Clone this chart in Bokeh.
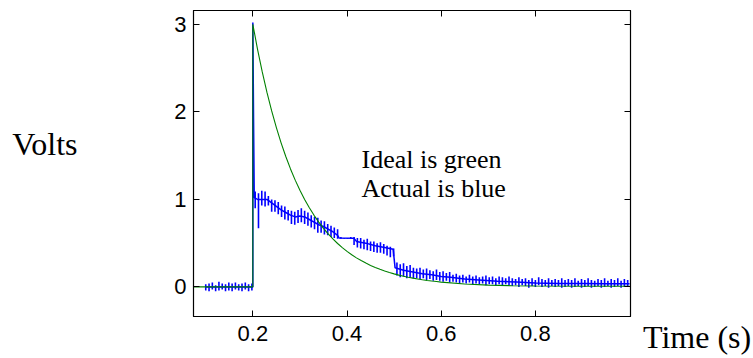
from bokeh.plotting import figure
from bokeh.models import Range1d, LinearAxis, FixedTicker, Label, CustomJSTickFormatter, Div
from bokeh.layouts import row
from bokeh.embed import file_html
from bokeh.resources import INLINE

# Ideal response (green)
ideal_t = [0.07, 0.200, 0.200, 0.21, 0.22, 0.23, 0.24, 0.25, 0.26, 0.27, 0.28, 0.29, 0.30,
           0.31, 0.32, 0.33, 0.34, 0.35, 0.36, 0.37, 0.38, 0.39, 0.40,
           0.41, 0.42, 0.43, 0.44, 0.45, 0.46, 0.47, 0.48, 0.49, 0.50,
           0.51, 0.52, 0.53, 0.54, 0.55, 0.56, 0.57, 0.58, 0.59, 0.60,
           0.65, 0.70, 0.75, 0.80, 0.90, 1.00]
ideal_v = [0.0, 0.0, 3.00, 2.715, 2.456, 2.222, 2.011, 1.820, 1.646, 1.490, 1.348, 1.220, 1.104,
           0.999, 0.904, 0.818, 0.740, 0.669, 0.606, 0.548, 0.496, 0.449, 0.406,
           0.367, 0.332, 0.301, 0.272, 0.246, 0.223, 0.201, 0.182, 0.165, 0.149,
           0.135, 0.122, 0.110, 0.100, 0.091, 0.082, 0.074, 0.067, 0.061, 0.055,
           0.033, 0.020, 0.014, 0.010, 0.008, 0.007]

# Actual response (blue): running level
actual_t = [0.100, 0.200, 0.200, 0.2015, 0.203, 0.210, 0.220, 0.230, 0.240, 0.250, 0.260,
            0.270, 0.280, 0.290, 0.300, 0.310, 0.320, 0.330, 0.340, 0.350, 0.360,
            0.370, 0.380, 0.383, 0.415, 0.420, 0.440, 0.460, 0.480, 0.498, 0.502,
            0.520, 0.540, 0.560, 0.580, 0.600, 0.620, 0.650, 0.680, 0.720, 0.760,
            0.800, 0.850, 0.900, 0.950, 1.000]
actual_v = [0.00, 0.00, 3.02, 1.93, 1.02, 1.00, 1.00, 1.00, 0.96, 0.92, 0.88,
            0.85, 0.82, 0.80, 0.81, 0.80, 0.77, 0.74, 0.71, 0.69, 0.66,
            0.63, 0.59, 0.56, 0.555, 0.52, 0.50, 0.47, 0.45, 0.43, 0.22,
            0.19, 0.17, 0.15, 0.14, 0.12, 0.11, 0.09, 0.08, 0.065, 0.055,
            0.045, 0.04, 0.038, 0.035, 0.035]

# Actual response (blue): noise excursions, one per sample starting at 0.100 s every 0.007 s
noise_t0 = 0.100
noise_dt = 0.007
noise_lo = [-0.04, -0.05, -0.03, -0.05, -0.04, -0.03, -0.05, -0.04, -0.05, -0.03,
            -0.04, -0.05, -0.03, -0.05, -0.04,
            0.90, 0.67, 0.93, 0.92, 0.93, 0.86, 0.86, 0.83, 0.80, 0.77,
            0.76, 0.72, 0.71, 0.73, 0.74, 0.72, 0.70, 0.68, 0.66, 0.62,
            0.62, 0.60, 0.59, 0.57, 0.56, 0.55, 0.55, 0.55, 0.55, 0.55,
            0.48, 0.45, 0.44, 0.43, 0.42, 0.41, 0.40, 0.39, 0.39, 0.38,
            0.36, 0.34, 0.35, 0.13, 0.11, 0.12, 0.10, 0.11, 0.10, 0.10,
            0.09, 0.10, 0.08, 0.09, 0.07, 0.08, 0.07, 0.06, 0.07, 0.05,
            0.06, 0.05, 0.04, 0.05, 0.04, 0.05, 0.03, 0.04, 0.03, 0.04,
            0.02, 0.03, 0.03, 0.02, 0.03, 0.01, 0.03, 0.02, 0.01, 0.02,
            0.00, 0.02, 0.01, -0.01, 0.01, 0.00, 0.02, 0.00, 0.01, -0.01,
            0.01, 0.00, 0.01, -0.01, 0.00, 0.01, -0.01, 0.00, 0.01, -0.01,
            0.00, 0.01, -0.01, 0.00, 0.01, -0.01, 0.00, 0.01, -0.01, 0.00,
            0.01, -0.01, 0.00, 0.01]
noise_hi = [0.03, 0.04, 0.05, 0.02, 0.06, 0.04, 0.03, 0.05, 0.04, 0.05,
            0.03, 0.04, 0.05, 0.03, 0.04,
            1.09, 1.07, 1.10, 1.09, 1.04, 1.00, 0.99, 0.97, 0.93, 0.92,
            0.88, 0.87, 0.86, 0.88, 0.90, 0.87, 0.85, 0.82, 0.80, 0.79,
            0.76, 0.75, 0.72, 0.70, 0.68, 0.66, 0.57, 0.56, 0.56, 0.57,
            0.57, 0.56, 0.56, 0.54, 0.55, 0.52, 0.52, 0.50, 0.51, 0.49,
            0.47, 0.46, 0.44, 0.28, 0.26, 0.27, 0.24, 0.25, 0.22, 0.21,
            0.22, 0.20, 0.21, 0.19, 0.18, 0.20, 0.17, 0.18, 0.16, 0.17,
            0.14, 0.15, 0.13, 0.14, 0.12, 0.14, 0.12, 0.13, 0.11, 0.12,
            0.13, 0.11, 0.12, 0.10, 0.12, 0.11, 0.10, 0.12, 0.10, 0.09,
            0.11, 0.09, 0.10, 0.08, 0.10, 0.08, 0.11, 0.09, 0.08, 0.10,
            0.08, 0.09, 0.08, 0.10, 0.08, 0.09, 0.08, 0.10, 0.07, 0.09,
            0.08, 0.10, 0.08, 0.07, 0.09, 0.08, 0.10, 0.07, 0.09, 0.08,
            0.10, 0.07, 0.09, 0.08]
noise_t = [round(noise_t0 + i * noise_dt, 4) for i in range(len(noise_lo))]

x_ticks = [0.2, 0.4, 0.6, 0.8]
y_ticks = [0, 1, 2, 3]

x_label = "Time (s)"
y_label = "Volts"
y_label_at = 1.63          # height (volts) at which the horizontal "Volts" label sits
note_lines = ["Ideal is green", "Actual is blue"]

p = figure(width=640, height=358, output_backend="svg", toolbar_location=None,
           x_range=Range1d(0.074, 1.002), y_range=Range1d(-0.338, 3.158),
           min_border_left=193, min_border_right=10, min_border_top=10, min_border_bottom=42)
p.background_fill_color = "white"
p.border_fill_color = "white"
p.outline_line_color = "black"
p.outline_line_width = 1.2
p.grid.visible = False

blank = CustomJSTickFormatter(code="return ''")

def style_axis(ax, ticks, show_labels):
    ax.ticker = FixedTicker(ticks=ticks)
    ax.major_tick_in = 6
    ax.major_tick_out = 0
    ax.minor_tick_in = 0
    ax.minor_tick_out = 0
    ax.major_tick_line_color = "black"
    ax.axis_line_color = "black"
    ax.major_label_text_font = "Liberation Sans"
    ax.major_label_text_font_size = "22px"
    ax.major_label_text_color = "black"
    if not show_labels:
        ax.formatter = blank
        ax.major_label_standoff = 0
        ax.major_label_text_font_size = "0px"

style_axis(p.xaxis[0], x_ticks, True)
p.xaxis[0].major_label_standoff = 9
style_axis(p.yaxis[0], y_ticks, True)
p.yaxis[0].major_label_standoff = 7

# horizontal "Volts" label, carried by a second left axis
volts_axis = LinearAxis(ticker=FixedTicker(ticks=[y_label_at]),
                        formatter=CustomJSTickFormatter(code="return '%s'" % y_label))
volts_axis.axis_line_color = None
volts_axis.major_tick_line_color = None
volts_axis.minor_tick_line_color = None
volts_axis.major_tick_out = 0
volts_axis.major_tick_in = 0
volts_axis.major_label_standoff = 94
volts_axis.major_label_text_font = "Liberation Serif"
volts_axis.major_label_text_font_size = "32px"
volts_axis.major_label_text_color = "black"
p.add_layout(volts_axis, "left")

top = LinearAxis()
style_axis(top, x_ticks, False)
p.add_layout(top, "above")
right = LinearAxis()
style_axis(right, y_ticks, False)
p.add_layout(right, "right")

p.segment(x0=noise_t, y0=noise_lo, x1=noise_t, y1=noise_hi, line_color="blue", line_width=1.6)
p.line(actual_t, actual_v, line_color="blue", line_width=1.5)
p.line(ideal_t, ideal_v, line_color="#008000", line_width=1.1)

serif = "Liberation Serif"
p.add_layout(Label(x=168, y=157, x_units="screen", y_units="screen", text=note_lines[0],
                   text_font=serif, text_font_size="26px", text_color="black",
                   text_baseline="alphabetic"))
p.add_layout(Label(x=168, y=128, x_units="screen", y_units="screen", text=note_lines[1],
                   text_font=serif, text_font_size="26px", text_color="black",
                   text_baseline="alphabetic"))

time_div = Div(width=113, height=358,
               text=('<div style="padding-top:315px;padding-left:0px;margin-left:-2px;'
                     'font-family:\'Liberation Serif\';font-size:32px;line-height:35px;'
                     'color:black;white-space:nowrap">%s</div>' % x_label))

layout = row(p, time_div)
open("out.html", "w").write(file_html(layout, INLINE))
